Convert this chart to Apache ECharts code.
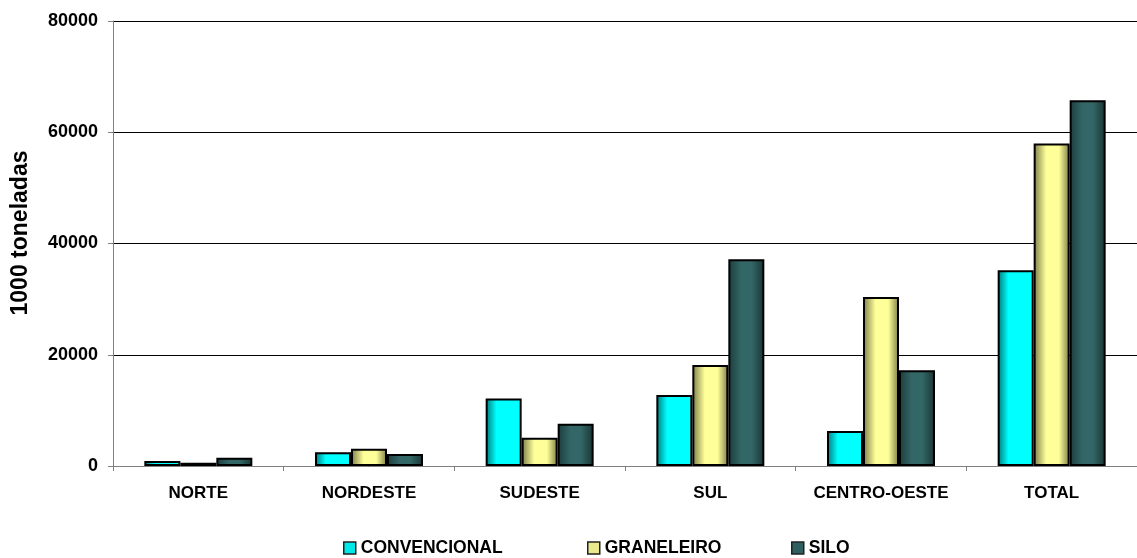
<!DOCTYPE html>
<html><head><meta charset="utf-8">
<script src="https://cdn.jsdelivr.net/npm/echarts@6/dist/echarts.min.js"></script>
<style>html,body{margin:0;padding:0;background:#fff}#c{width:1137px;height:558px}</style>
</head><body><div id="c"></div>
<script>
const categories = ['NORTE','NORDESTE','SUDESTE','SUL','CENTRO-OESTE','TOTAL'];
const convencional = [900, 2450, 12150, 12750, 6300, 35200];
const graneleiro = [600, 3100, 5100, 18150, 30400, 58000];
const silo = [1500, 2150, 7600, 37150, 17200, 65750];
const yTicks = [0, 20000, 40000, 60000, 80000];
const seriesNames = ['CONVENCIONAL','GRANELEIRO','SILO'];
const yAxisTitle = '1000 toneladas';

function grad(stops){
  return new echarts.graphic.LinearGradient(0,0,1,0, stops.map(s=>({offset:s[0],color:s[1]})));
}
const fills = [
  grad([[0,'#007878'],[0.3,'#00ffff'],[1,'#00ffff']]),
  grad([[0,'#7a7a48'],[0.35,'#ffff99'],[0.7,'#ffff99'],[1,'#7a7a48']]),
  grad([[0,'#1c3c3c'],[0.35,'#336666'],[0.65,'#336666'],[1,'#1a3333']])
];
const legendColors = ['#00e8e8','#eaea8c','#2f5f5f'];
const font = 'Liberation Sans, Arial, sans-serif';
const dataArr = [convencional, graneleiro, silo];

const chart = echarts.init(document.getElementById('c'));
chart.setOption({
  animation:false,
  textStyle:{fontFamily:font},
  grid:{left:113, top:21, width:1028, height:445, containLabel:false},
  legend: seriesNames.map((n,i)=>({
    data:[{name:n, itemStyle:{color:legendColors[i], borderColor:'#222', borderWidth:1.5}}],
    left:[343,587,791][i], top:539, padding:0, itemWidth:12, itemHeight:12, itemGap:7,
    icon:'rect', selectedMode:false,
    textStyle:{fontFamily:font, fontWeight:'bold', fontSize:17.5, color:'#000'}
  })),
  graphic:[{
    type:'text', x:21, y:233, rotation:Math.PI/2,
    style:{text:yAxisTitle, font:'bold 23px Liberation Sans, Arial, sans-serif', fill:'#000',
      align:'center', verticalAlign:'middle'}
  }],
  xAxis:{
    type:'category', data:categories,
    axisLine:{lineStyle:{color:'#808080', width:1}},
    axisTick:{show:true, interval:0, length:5, lineStyle:{color:'#808080'}},
    axisLabel:{interval:0, fontFamily:font, fontWeight:'bold', fontSize:17, color:'#000', margin:19}
  },
  yAxis:{
    type:'value', min:0, max:80000, interval:20000,
    axisLine:{show:true, lineStyle:{color:'#808080'}},
    axisTick:{show:true, length:5, lineStyle:{color:'#808080'}},
    splitLine:{lineStyle:{color:'#000', width:1}},
    axisLabel:{fontFamily:font, fontWeight:'bold', fontSize:18, color:'#000', margin:15,
      formatter:v=> yTicks.includes(v)? String(v):''}
  },
  series: seriesNames.map((n,i)=>({
    name:n, type:'bar', data:dataArr[i], barWidth:36, barGap:'0%',
    itemStyle:{color:fills[i], borderColor:'#000', borderWidth:2},
    emphasis:{disabled:true}
  }))
});
</script></body></html>
